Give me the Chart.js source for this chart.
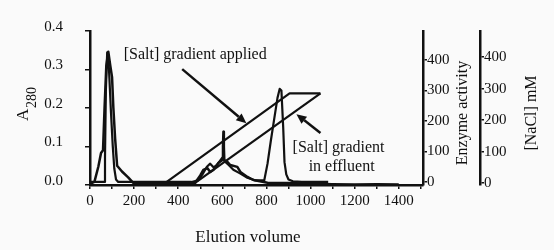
<!DOCTYPE html>
<html>
<head>
<meta charset="utf-8">
<title>Elution profile</title>
<script src="https://cdn.jsdelivr.net/npm/chart.js@4.4.0/dist/chart.umd.min.js"></script>
<style>
    html, body { margin: 0; padding: 0; background: #fafafa; }
    canvas { display: block; }
</style>
</head>
<body>
<canvas id="chart" width="554" height="250"></canvas>
<script>
// tick positions for the four axes
var volumeTicks = [0, 100, 200, 300, 400, 500, 600, 700, 800, 900, 1000, 1100, 1200, 1300, 1400, 1500];
var a280Ticks = [0, 0.05, 0.1, 0.15, 0.2, 0.25, 0.3, 0.35, 0.4];
var enzymeTicks = [0, 50, 100, 150, 200, 250, 300, 350, 400, 450];
var naclTicks = [0, 50, 100, 150, 200, 250, 300, 350, 400, 450];

// A280 trace
var a280Volume = [0, 20, 38, 50, 59, 66, 74, 83, 92, 100, 106, 114, 123, 145, 173, 195, 230, 300, 400, 477, 500, 514, 532, 545, 559, 582, 600, 603, 605, 607, 609, 623, 636, 668, 682, 714, 741, 805, 900, 1000, 1100, 1200, 1300, 1400];
var a280Values = [0.003, 0.008, 0.048, 0.083, 0.09, 0.2, 0.31, 0.346, 0.31, 0.28, 0.2, 0.12, 0.05, 0.035, 0.02, 0.006, 0.002, 0.003, 0.004, 0.006, 0.025, 0.039, 0.044, 0.034, 0.039, 0.057, 0.065, 0.1, 0.138, 0.1, 0.065, 0.06, 0.052, 0.047, 0.034, 0.021, 0.013, 0.006, 0.005, 0.003, 0.002, 0.001, 0.002, 0.001];

// enzyme activity trace
var enzymeVolume = [0, 60, 66, 68, 72, 78, 86, 95, 103, 110, 118, 128, 300, 460, 490, 510, 530, 545, 560, 575, 590, 600, 615, 630, 650, 680, 710, 750, 790, 805, 820, 835, 850, 860, 868, 876, 882, 890, 900, 920, 960, 1080];
var enzymeValues = [0, 0, 0, 80, 300, 425, 370, 230, 120, 45, 8, 0, 0, 0, 5, 25, 50, 60, 48, 55, 70, 80, 65, 55, 40, 28, 15, 5, 5, 60, 135, 205, 275, 305, 300, 180, 65, 25, 8, 2, 0, 0];

// salt gradient, mM
var saltAppliedVolume = [340, 905, 1045];
var saltAppliedValues = [0, 285, 285];
var saltEffluentVolume = [475, 1045];
var saltEffluentValues = [0, 285];

var ink = '#111';
var serif = '"Liberation Serif", "Times New Roman", serif';
Chart.defaults.font.family = serif;
Chart.defaults.color = ink;

function toPoints(xs, ys) {
    return xs.map(function (x, i) {
        return { x: x, y: ys[i] };
    });
}

function setTicks(values) {
    return function (scale) {
        scale.ticks = values.map(function (v) { return { value: v }; });
    };
}

function fixWidth(w) {
    return function (scale) { scale.width = w; };
}

// annotations, placed in volume / mM units
var notes = {
    applied: { text: '[Salt] gradient applied', x: 477, y: 406 },
    effluent1: { text: '[Salt] gradient', x: 1127, y: 111 },
    effluent2: { text: 'in effluent', x: 1141, y: 51 },
    arrow1: { from: [418, 362], to: [709, 190] },
    arrow2: { from: [1045, 159], to: [936, 219] }
};

function drawArrow(ctx, x0, y0, x1, y1) {
    var ang = Math.atan2(y1 - y0, x1 - x0);
    var len = 10, half = 4.5;
    var bx = x1 - Math.cos(ang) * len, by = y1 - Math.sin(ang) * len;
    ctx.beginPath();
    ctx.moveTo(x0, y0);
    ctx.lineTo(bx, by);
    ctx.stroke();
    ctx.beginPath();
    ctx.moveTo(x1, y1);
    ctx.lineTo(bx + Math.sin(ang) * half, by - Math.cos(ang) * half);
    ctx.lineTo(bx - Math.sin(ang) * half, by + Math.cos(ang) * half);
    ctx.closePath();
    ctx.fill();
}

function vertText(ctx, text, x, y) {
    ctx.save();
    ctx.translate(x, y);
    ctx.rotate(-Math.PI / 2);
    ctx.fillText(text, 0, 0);
    ctx.restore();
}

var notesPlugin = {
    id: 'notes',
    afterDraw: function (chart) {
        var ctx = chart.ctx;
        var sx = chart.scales.x, sy = chart.scales.y2;
        var px = function (v) { return sx.getPixelForValue(v); };
        var py = function (v) { return sy.getPixelForValue(v); };

        ctx.save();
        ctx.fillStyle = ink;
        ctx.strokeStyle = ink;
        ctx.lineWidth = 2.5;
        ctx.textAlign = 'center';
        ctx.textBaseline = 'middle';
        ctx.font = '16px ' + serif;

        ['applied', 'effluent1', 'effluent2'].forEach(function (k) {
            var n = notes[k];
            ctx.fillText(n.text, px(n.x), py(n.y));
        });
        ['arrow1', 'arrow2'].forEach(function (k) {
            var a = notes[k];
            drawArrow(ctx, px(a.from[0]), py(a.from[1]), px(a.to[0]), py(a.to[1]));
        });

        // axis titles
        ctx.font = '17px ' + serif;
        ctx.fillText('Elution volume', 248, 238);
        ctx.font = '16px ' + serif;
        vertText(ctx, 'Enzyme activity', 463, 113);
        vertText(ctx, '[NaCl] mM', 532, 113);

        // A with subscript 280
        ctx.save();
        ctx.translate(24, 121);
        ctx.rotate(-Math.PI / 2);
        ctx.textAlign = 'left';
        ctx.font = '17px ' + serif;
        ctx.fillText('A', 0, 0);
        ctx.font = '14px ' + serif;
        ctx.fillText('280', 13, 8);
        ctx.restore();

        ctx.restore();
    }
};

var axisLine = { display: true, color: ink, width: 2.5 };
var tickGrid = function (len) {
    return { drawOnChartArea: false, color: ink, lineWidth: 1.5, tickLength: len };
};
var tickFont = { size: 15, family: serif };

function lineSet(label, points, axis, width) {
    return {
        label: label,
        data: points,
        yAxisID: axis,
        borderColor: ink,
        backgroundColor: ink,
        borderWidth: width,
        pointRadius: 0,
        tension: 0,
        fill: false,
        borderJoinStyle: 'round'
    };
}

new Chart(document.getElementById('chart').getContext('2d'), {
    type: 'line',
    data: {
        datasets: [
            lineSet('A280', toPoints(a280Volume, a280Values), 'y', 2.5),
            lineSet('Enzyme activity', toPoints(enzymeVolume, enzymeValues), 'y1', 2.2),
            lineSet('Salt applied', toPoints(saltAppliedVolume, saltAppliedValues), 'y2', 2.2),
            lineSet('Salt in effluent', toPoints(saltEffluentVolume, saltEffluentValues), 'y2', 2.2)
        ]
    },
    options: {
        responsive: false,
        animation: false,
        devicePixelRatio: 1,
        layout: { padding: { top: 31, right: 0, bottom: 0, left: 0 } },
        plugins: {
            colors: { enabled: false },
            legend: { display: false },
            tooltip: { enabled: false }
        },
        scales: {
            x: {
                type: 'linear',
                position: 'bottom',
                min: 0,
                max: 1510,
                border: axisLine,
                grid: tickGrid(4),
                ticks: {
                    autoSkip: false,
                    maxRotation: 0,
                    padding: 3,
                    font: tickFont,
                    callback: function (v) { return v % 200 === 0 ? String(v) : ''; }
                },
                afterBuildTicks: setTicks(volumeTicks),
                afterFit: function (s) { s.height = 65; }
            },
            y: {
                position: 'left',
                min: 0,
                max: 0.4,
                border: axisLine,
                grid: tickGrid(5),
                ticks: {
                    padding: 22,
                    labelOffset: -4,
                    font: tickFont,
                    callback: function (v) {
                        return Math.abs(v * 10 - Math.round(v * 10)) < 1e-6 ? v.toFixed(1) : '';
                    }
                },
                afterBuildTicks: setTicks(a280Ticks),
                afterFit: fixWidth(90)
            },
            y1: {
                position: 'right',
                min: -10,
                max: 495,
                border: axisLine,
                grid: tickGrid(4),
                ticks: {
                    padding: 0,
                    font: tickFont,
                    callback: function (v) { return v % 100 === 0 ? String(v) : ''; }
                },
                afterBuildTicks: setTicks(enzymeTicks),
                afterFit: fixWidth(57)
            },
            y2: {
                position: 'right',
                min: -6,
                max: 483,
                border: axisLine,
                grid: tickGrid(4),
                ticks: {
                    padding: 0,
                    font: tickFont,
                    callback: function (v) { return v % 100 === 0 ? String(v) : ''; }
                },
                afterBuildTicks: setTicks(naclTicks),
                afterFit: fixWidth(74)
            }
        }
    },
    plugins: [notesPlugin]
});
</script>
</body>
</html>
